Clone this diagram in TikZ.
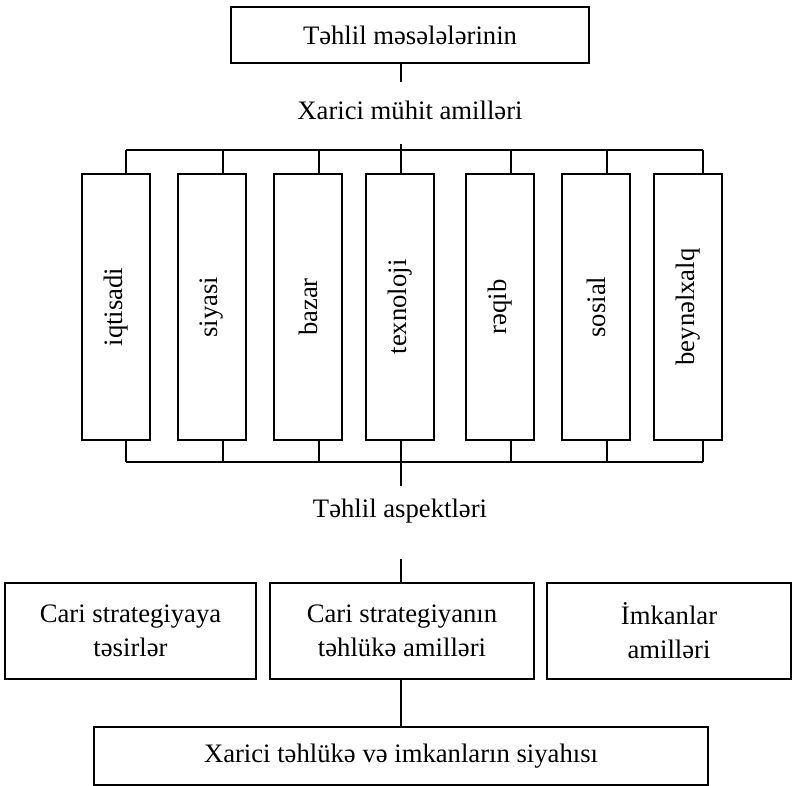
\documentclass[tikz,border=0pt]{standalone}
\usepackage{fontspec}
\setmainfont{Liberation Serif}

\tikzset{every picture/.style={line width=1pt}}
\tikzset{
  txt/.style={inner sep=0.75pt, align=center, font=\fontsize{20}{25.5}\selectfont},
  box/.style={txt, draw},
  tallbox/.style={box, minimum width=51pt, minimum height=199.5pt}
}

\begin{document}
\begin{tikzpicture}[x=0.75pt,y=0.75pt,yscale=-1,xscale=1]
\useasboundingbox (0,0) rectangle (794,786);

%Shape: Rectangle
\node[box, minimum width=268.5pt, minimum height=42pt] (task) at (410,35) {Təhlil məsələlərinin};
% Text Node
\node[txt] (ext) at (410,110) {Xarici mühit amilləri};

%Tall boxes
\node[tallbox] (iqt) at (116,307) {\rotatebox{90}{iqtisadi}};
\node[tallbox] (siy) at (212,307) {\rotatebox{90}{siyasi}};
\node[tallbox] (baz) at (308,307) {\rotatebox{90}{bazar}};
\node[tallbox] (tex) at (400,307) {\rotatebox{90}{texnoloji}};
\node[tallbox] (req) at (500,307) {\rotatebox{90}{rəqib}};
\node[tallbox] (sos) at (596,307) {\rotatebox{90}{sosial}};
\node[tallbox] (bey) at (688,307) {\rotatebox{90}{beynəlxalq}};

% Text Node
\node[txt] (asp) at (400,511) {Təhlil aspektləri};

%Shape: Rectangle
\node[box, minimum width=188.25pt, minimum height=72pt] (cur) at (130.5,631) {Cari strategiyaya\\təsirlər};
\node[box, minimum width=198pt, minimum height=72pt] (thr) at (402,631) {Cari strategiyanın\\təhlükə amilləri};
\node[box, minimum width=183pt, minimum height=72pt] (opp) at (669,631) {İmkanlar\\amilləri};
\node[box, minimum width=460.5pt, minimum height=43.5pt] (list) at (401,756) {Xarici təhlükə və imkanların siyahısı};

%Straight Lines
\coordinate (c1) at (401,82);
\coordinate (c2) at (401,144);
\coordinate (c3) at (401,486);
\coordinate (c4) at (401,559);
\draw (c1 |- task.south) -- (c1);

\foreach \x/\n [count=\i] in {126/iqt,223/siy,319/baz,401/tex,511/req,607/sos,703/bey}{
  \coordinate (up\i) at (\x,150);
  \coordinate (dn\i) at (\x,462);
  \draw (up\i) -- (up\i |- \n.north);
  \draw (dn\i) -- (dn\i |- \n.south);
}
\draw (up1) -- (up7);
\draw (dn1) -- (dn7);
\draw (c2) -- (up4);
\draw (dn4) -- (c3);
\draw (c4) -- (c4 |- thr.north);
\draw (c4 |- thr.south) -- (c4 |- list.north);
\end{tikzpicture}
\end{document}
